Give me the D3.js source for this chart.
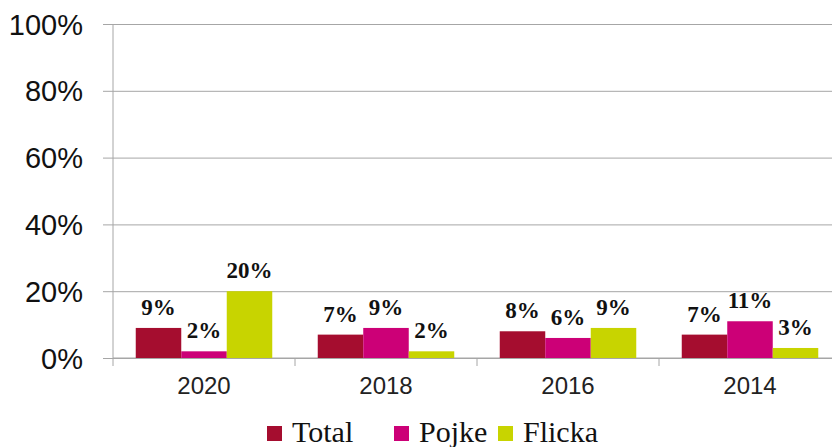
<!DOCTYPE html>
<html>
<head>
<meta charset="utf-8">
<script src="https://cdn.jsdelivr.net/npm/d3@7"></script>
<style>
  html, body { margin: 0; padding: 0; background: #fff; overflow: hidden; }
  .serif { font-family: "Liberation Serif", "Times New Roman", Times, serif; }
  .sans { font-family: "Liberation Sans", Arial, Helvetica, sans-serif; }
</style>
</head>
<body>
<div id="chart"></div>
<script>
"use strict";

const years = ["2020", "2018", "2016", "2014"];
const seriesNames = ["Total", "Pojke", "Flicka"];
const totalValues = [9, 7, 8, 7];
const pojkeValues = [2, 9, 6, 11];
const flickaValues = [20, 2, 9, 3];
const yTicks = [0, 20, 40, 60, 80, 100];
const colors = ["#A50D2F", "#CC0077", "#C8D400"];

const width = 832;
const height = 447;
const margin = { top: 24, right: -9, bottom: 89, left: 113 };
const innerW = width - margin.left - margin.right;
const innerH = height - margin.top - margin.bottom;

const svg = d3.select("#chart").append("svg")
  .attr("width", width)
  .attr("height", height);

const g = svg.append("g").attr("transform", `translate(${margin.left},${margin.top})`);

const x = d3.scaleBand().domain(years).range([0, innerW]).padding(0);
// group of 3 bars with half-a-bar gap each side
const xInner = d3.scaleBand().domain(seriesNames)
  .range([x.bandwidth() / 8, x.bandwidth() * 7 / 8]).padding(0);
const y = d3.scaleLinear().domain([0, 100]).range([innerH, 0]);

const gridColor = "#A6A6A6";

// gridlines + y axis
const yAxis = g.append("g")
  .call(d3.axisLeft(y).tickValues(yTicks).tickSize(0).tickFormat((d) => `${d}%`));
yAxis.select(".domain").remove();
yAxis.selectAll(".tick line").attr("stroke", gridColor).attr("x1", -10).attr("x2", innerW);
yAxis.selectAll(".tick text")
  .attr("class", "sans")
  .attr("x", -30)
  .attr("dy", "0.35em")
  .style("font-size", "29px")
  .attr("fill", "#111");

g.append("line")
  .attr("x1", 0).attr("x2", 0).attr("y1", 0).attr("y2", innerH)
  .attr("stroke", gridColor);

// x axis
const xAxis = g.append("g").attr("transform", `translate(0,${innerH})`);
xAxis.append("line").attr("x1", 0).attr("x2", innerW).attr("stroke", gridColor);
xAxis.selectAll(".xtick")
  .data(d3.range(years.length + 1))
  .join("line")
  .attr("class", "xtick")
  .attr("x1", (i) => i * x.bandwidth())
  .attr("x2", (i) => i * x.bandwidth())
  .attr("y1", 0).attr("y2", 8)
  .attr("stroke", gridColor);
xAxis.selectAll(".xlabel")
  .data(years)
  .join("text")
  .attr("class", "xlabel sans")
  .attr("x", (d) => x(d) + x.bandwidth() / 2)
  .attr("y", 36)
  .attr("text-anchor", "middle")
  .style("font-size", "24px")
  .attr("fill", "#222")
  .text((d) => d);

// bars
const rows = years.map((yr, i) => ({
  year: yr,
  values: [totalValues[i], pojkeValues[i], flickaValues[i]],
}));

const groups = g.selectAll(".grp")
  .data(rows)
  .join("g")
  .attr("class", "grp")
  .attr("transform", (d) => `translate(${x(d.year)},0)`);

groups.selectAll("rect")
  .data((d) => d.values.map((v, k) => ({ key: seriesNames[k], v, k })))
  .join("rect")
  .attr("x", (d) => xInner(d.key))
  .attr("width", xInner.bandwidth())
  .attr("y", (d) => y(d.v))
  .attr("height", (d) => innerH - y(d.v))
  .attr("fill", (d) => colors[d.k]);

groups.selectAll(".lbl")
  .data((d) => d.values.map((v, k) => ({ key: seriesNames[k], v, k })))
  .join("text")
  .attr("class", "lbl serif")
  .attr("x", (d) => xInner(d.key) + xInner.bandwidth() / 2)
  .attr("y", (d) => y(d.v) - 13)
  .attr("text-anchor", "middle")
  .style("font-weight", "bold")
  .style("font-size", "23px")
  .attr("fill", "#111")
  .text((d) => `${d.v}%`);

// legend
const legendX = [267, 394, 498];
const legend = svg.append("g");
seriesNames.forEach((name, k) => {
  legend.append("rect")
    .attr("x", legendX[k]).attr("y", 426)
    .attr("width", 15).attr("height", 15)
    .attr("fill", colors[k]);
  legend.append("text")
    .attr("class", "serif")
    .attr("x", legendX[k] + 25).attr("y", 442)
    .style("font-size", "30px")
    .attr("fill", "#111")
    .text(name);
});
</script>
</body>
</html>
